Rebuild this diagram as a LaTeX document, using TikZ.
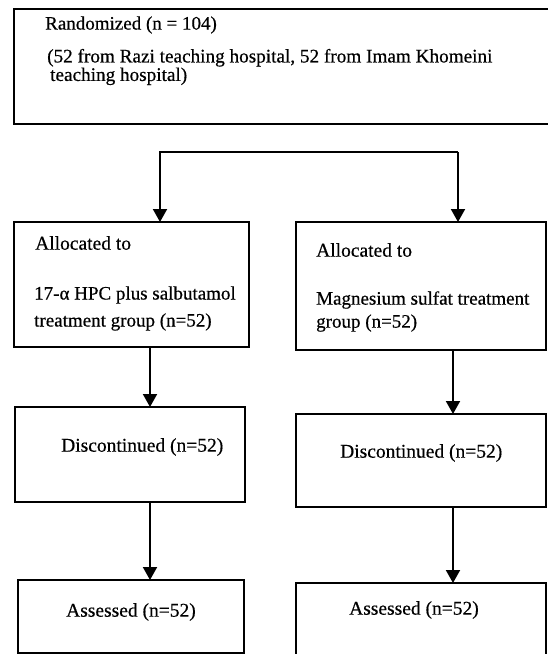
\documentclass[tikz,border=0pt]{standalone}
\usepackage{fontspec}
\setmainfont{Liberation Serif}[UprightFeatures={FakeBold=0.5}]
\usetikzlibrary{arrows.meta}
\newcommand{\boxFont}{\fontsize{19.5}{25}\selectfont}
\newcommand{\headFont}{\fontsize{19}{18}\selectfont}

\begin{document}
\begin{tikzpicture}[x=1pt, y=-1pt,
   box/.style={draw, line width=2pt, inner sep=0pt, outer sep=0pt, anchor=north west},
   txt/.style={anchor=west, inner sep=0pt, align=left, font=\boxFont},
   arr/.style={line width=2pt, -{Triangle[length=13pt,width=14pt]}}]
   \useasboundingbox (0,0) rectangle (547,654);

   % boxes
   \node[box, minimum width=536pt, minimum height=115pt] (rand) at (14,9) {};
   \node[box, minimum width=235pt, minimum height=125pt] (allocL) at (14,222) {};
   \node[box, minimum width=250pt, minimum height=128pt] (allocR) at (296,222) {};
   \node[box, minimum width=230pt, minimum height=95pt] (discL) at (15,407) {};
   \node[box, minimum width=250pt, minimum height=93pt] (discR) at (296,414) {};
   \node[box, minimum width=226pt, minimum height=73pt] (assessL) at (18,580) {};
   \node[box, minimum width=250pt, minimum height=76pt] (assessR) at (296,583) {};

   % texts
   \node[txt, font=\headFont] (randTitle) at (45,25) {Randomized (n = 104)};
   \node[txt, font=\fontsize{19.2}{16}\selectfont] (randFrom) at (47,67)
      {(52 from Razi teaching hospital, 52 from Imam Khomeini\\\hspace{3pt}teaching hospital)};
   \node[txt] (allocLHead) at (35,243) {Allocated to};
   \node[txt, font=\fontsize{19}{27}\selectfont] (allocLText) at (34,308.5)
      {17-α HPC plus salbutamol\\treatment group (n=52)};
   \node[txt] (allocRHead) at (316,250) {Allocated to};
   \node[txt, font=\fontsize{19}{23}\selectfont] (allocRText) at (316,311.5)
      {Magnesium sulfat treatment\\group (n=52)};
   \node[txt] (discLText) at (61,447) {Discontinued (n=52)};
   \node[txt] (discRText) at (340,453) {Discontinued (n=52)};
   \node[txt] (assessLText) at (66,612) {Assessed (n=52)};
   \node[txt] (assessRText) at (349,610) {Assessed (n=52)};

   % connectors
   \coordinate (splitL) at (160,152);
   \coordinate (splitR) at (458,152);
   \coordinate (colL) at (150,0);
   \coordinate (colR) at (453,0);
   \draw[arr] (splitR) -- (splitL) -- (splitL |- allocL.north);
   \draw[arr] (splitR) -- (splitR |- allocR.north);
   \draw[arr] (allocL.south -| colL) -- (discL.north -| colL);
   \draw[arr] (allocR.south -| colR) -- (discR.north -| colR);
   \draw[arr] (discL.south -| colL) -- (assessL.north -| colL);
   \draw[arr] (discR.south -| colR) -- (assessR.north -| colR);
\end{tikzpicture}
\end{document}
